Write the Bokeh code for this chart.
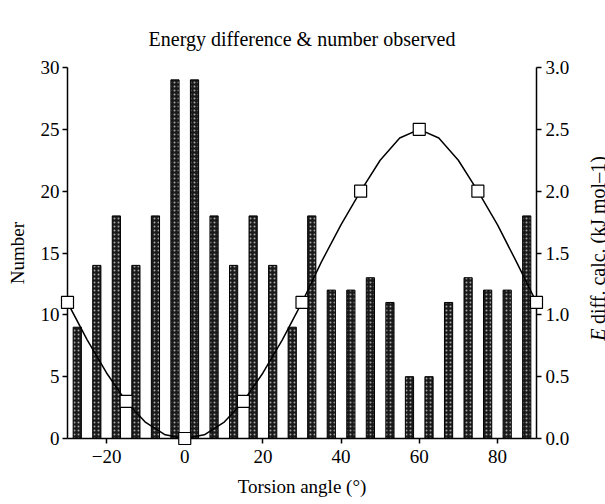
import numpy as np
from bokeh.plotting import figure
from bokeh.layouts import row
from bokeh.models import Range1d, LinearAxis, FixedTicker, NumeralTickFormatter
from bokeh.core.properties import value
from bokeh.embed import file_html
from bokeh.resources import INLINE

# Data
bar_angle = [-27.5, -22.5, -17.5, -12.5, -7.5, -2.5, 2.5, 7.5, 12.5, 17.5, 22.5, 27.5,
             32.5, 37.5, 42.5, 47.5, 52.5, 57.5, 62.5, 67.5, 72.5, 77.5, 82.5, 87.5]
bar_number = [9, 14, 18, 14, 18, 29, 29, 18, 14, 18, 14, 9,
              18, 12, 12, 13, 11, 5, 5, 11, 13, 12, 12, 18]

calc_angle = [-30, -15, 0, 15, 30, 45, 60, 75, 90]
calc_energy = [1.1, 0.3, 0.0, 0.3, 1.1, 2.0, 2.5, 2.0, 1.1]

curve_angle = [-30, -25, -20, -15, -10, -5, 0, 5, 10, 15, 20, 25, 30, 35, 40, 45,
               50, 55, 60, 65, 70, 75, 80, 85, 90]
curve_energy = [1.1, 0.8, 0.53, 0.3, 0.13, 0.03, 0.0, 0.03, 0.13, 0.3, 0.53, 0.8, 1.1,
                1.43, 1.73, 2.0, 2.25, 2.43, 2.5, 2.43, 2.25, 2.0, 1.73, 1.42, 1.1]

FONT = "Liberation Serif"
H = 500

p = figure(width=575, height=H, output_backend="svg", toolbar_location=None,
           x_range=Range1d(-30, 90), y_range=Range1d(0, 30),
           min_border_left=67, min_border_right=39, min_border_top=67, min_border_bottom=62)
p.extra_y_ranges = {"E": Range1d(0, 3)}
p.outline_line_color = None
p.grid.visible = False
p.background_fill_color = "white"
p.border_fill_color = "white"

p.title.text = "Energy difference & number observed"
p.title.align = "center"
p.title.offset = 15
p.title.text_font = FONT
p.title.text_font_size = "20px"
p.title.text_font_style = "normal"
p.title.text_color = "black"
p.title.standoff = 36

p.vbar(x=bar_angle, top=bar_number, width=2.1, bottom=0,
       fill_color="#1a1a1a", line_color="black", line_width=1,
       hatch_pattern=".", hatch_color="white", hatch_scale=4, hatch_alpha=0.6, hatch_weight=1)

p.line(curve_angle, curve_energy, y_range_name="E", line_color="black", line_width=1.5)
p.scatter(calc_angle, calc_energy, y_range_name="E", marker="square", size=12,
          fill_color="white", line_color="black", line_width=1.2, level="overlay")

def style_axis(ax):
    ax.axis_line_color = "black"
    ax.axis_line_width = 1.5
    ax.major_tick_line_color = "black"
    ax.major_tick_line_width = 1.5
    ax.major_tick_out = 5
    ax.major_tick_in = 0
    ax.minor_tick_line_color = None
    ax.major_label_text_font = FONT
    ax.major_label_text_font_size = "19px"
    ax.major_label_text_color = "black"
    ax.axis_label_text_font = FONT
    ax.axis_label_text_font_size = "19px"
    ax.axis_label_text_font_style = "normal"
    ax.axis_label_text_color = "black"
    ax.major_label_standoff = 3

xa = p.xaxis[0]
style_axis(xa)
xa.ticker = FixedTicker(ticks=[-20, 0, 20, 40, 60, 80])
xa.axis_label = "Torsion angle (°)"
xa.major_label_standoff = 6
xa.axis_label_standoff = 10

ya = p.yaxis[0]
style_axis(ya)
ya.ticker = FixedTicker(ticks=[0, 5, 10, 15, 20, 25, 30])
ya.axis_label = "Number"
ya.axis_label_standoff = 10

ra = LinearAxis(y_range_name="E", ticker=FixedTicker(ticks=[0, 0.5, 1.0, 1.5, 2.0, 2.5, 3.0]),
                formatter=NumeralTickFormatter(format="0.0"))
style_axis(ra)
ra.major_label_standoff = 4
p.add_layout(ra, "right")

# Narrow strip holding the right-hand axis title (italic E + rest), reading bottom to top
q = figure(width=30, height=H, output_backend="svg", toolbar_location=None,
           x_range=Range1d(0, 30), y_range=p.y_range,
           x_axis_location=None, y_axis_location=None,
           min_border_left=0, min_border_right=0, min_border_top=67, min_border_bottom=62)
q.outline_line_color = None
q.grid.visible = False
q.border_fill_color = "white"
q.background_fill_color = "white"
q.text(x=[22], y=[7.9], text=["E"], angle=np.pi / 2, text_font=value(FONT),
       text_font_size="20px", text_font_style="italic", text_align="left",
       text_baseline="alphabetic", text_color="black")
q.text(x=[22], y=[9.25], text=["diff. calc. (kJ mol–1)"], angle=np.pi / 2,
       text_font=value(FONT), text_font_size="20px", text_align="left",
       text_baseline="alphabetic", text_color="black")

layout = row(p, q, spacing=0)
open("out.html", "w").write(file_html(layout, INLINE))
